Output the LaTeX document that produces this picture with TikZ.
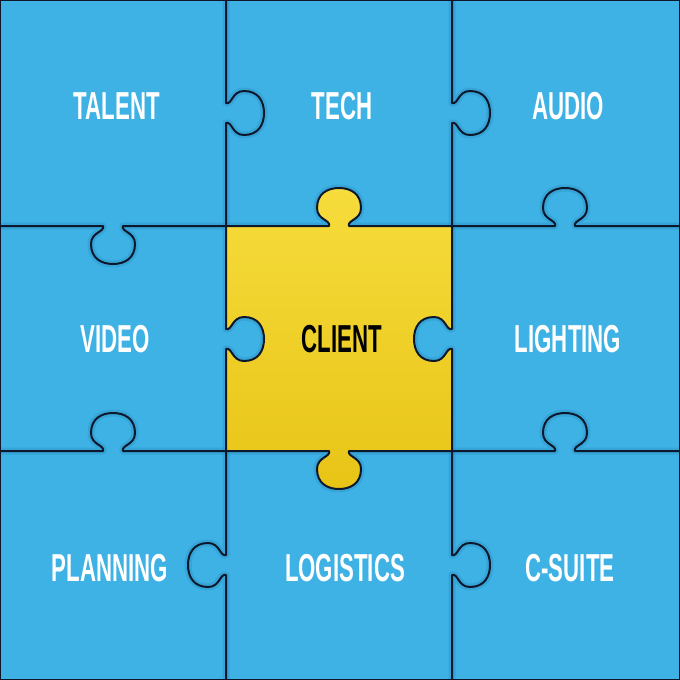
\documentclass[tikz,border=0pt]{standalone}
\usepackage{fontspec}
\newfontfamily\lab{Liberation Sans}[FakeStretch=0.57]
\definecolor{pblue}{RGB}{62,178,228}
\definecolor{pbluedark}{RGB}{40,140,190}
\definecolor{pyellowA}{RGB}{246,220,60}
\definecolor{pyellowB}{RGB}{232,196,22}
\definecolor{cutline}{RGB}{14,24,44}
\tikzset{
  % horizontal-edge knob: centre X, edge Y, bulge direction d, travel direction s
  knobH/.style n args={4}{insert path={-- ({#1-(#4)*10},{#2})
 .. controls ({#1-(#4)*8},{#2+(#3)*6}) and ({#1-(#4)*22},{#2+(#3)*6}) .. ({#1-(#4)*22},{#2+(#3)*18})
 .. controls ({#1-(#4)*22},{#2+(#3)*32}) and ({#1-(#4)*12},{#2+(#3)*38}) .. ({#1},{#2+(#3)*38})
 .. controls ({#1+(#4)*12},{#2+(#3)*38}) and ({#1+(#4)*22},{#2+(#3)*32}) .. ({#1+(#4)*22},{#2+(#3)*18})
 .. controls ({#1+(#4)*22},{#2+(#3)*6}) and ({#1+(#4)*8},{#2+(#3)*6}) .. ({#1+(#4)*10},{#2})}},
  % vertical-edge knob: edge X, centre Y, bulge direction d, travel direction s
  knobV/.style n args={4}{insert path={-- ({#1},{#2-(#4)*10})
 .. controls ({#1+(#3)*6},{#2-(#4)*8}) and ({#1+(#3)*6},{#2-(#4)*22}) .. ({#1+(#3)*18},{#2-(#4)*22})
 .. controls ({#1+(#3)*32},{#2-(#4)*22}) and ({#1+(#3)*38},{#2-(#4)*12}) .. ({#1+(#3)*38},{#2})
 .. controls ({#1+(#3)*38},{#2+(#4)*12}) and ({#1+(#3)*32},{#2+(#4)*22}) .. ({#1+(#3)*18},{#2+(#4)*22})
 .. controls ({#1+(#3)*6},{#2+(#4)*22}) and ({#1+(#3)*6},{#2+(#4)*8}) .. ({#1},{#2+(#4)*10})}},
  cut/.style={draw=cutline, line width=2pt, line join=round, line cap=round},
  shadowcut/.style={draw=pbluedark, line width=7pt, opacity=0.35, line join=round},
  label/.style={text=white, font=\lab\bfseries\fontsize{39}{39}\selectfont, inner sep=0pt},
}
\begin{document}
\begin{tikzpicture}[x=1pt,y=-1pt]
\useasboundingbox (0,0) rectangle (680,680);
\fill[pblue] (0,0) rectangle (680,680);
% soft bevel shadow along cuts
\path[shadowcut] (226,0) [knobV={226}{113}{1}{1}] [knobV={226}{339}{1}{1}] [knobV={226}{565}{-1}{1}] -- (226,680);
\path[shadowcut] (452,0) [knobV={452}{113}{1}{1}] [knobV={452}{339}{-1}{1}] [knobV={452}{565}{1}{1}] -- (452,680);
\path[shadowcut] (0,226) [knobH={113}{226}{1}{1}] [knobH={339}{226}{-1}{1}] [knobH={565}{226}{-1}{1}] -- (680,226);
\path[shadowcut] (0,451) [knobH={113}{451}{-1}{1}] [knobH={339}{451}{1}{1}] [knobH={565}{451}{-1}{1}] -- (680,451);
% client piece
\shade[top color=pyellowA, bottom color=pyellowB]
  (226,226) [knobH={339}{226}{-1}{1}] -- (452,226) [knobV={452}{339}{-1}{1}] -- (452,451)
  [knobH={339}{451}{1}{-1}] -- (226,451) [knobV={226}{339}{1}{-1}] -- cycle;
% cut lines
\path[cut] (226,0) [knobV={226}{113}{1}{1}] [knobV={226}{339}{1}{1}] [knobV={226}{565}{-1}{1}] -- (226,680);
\path[cut] (452,0) [knobV={452}{113}{1}{1}] [knobV={452}{339}{-1}{1}] [knobV={452}{565}{1}{1}] -- (452,680);
\path[cut] (0,226) [knobH={113}{226}{1}{1}] [knobH={339}{226}{-1}{1}] [knobH={565}{226}{-1}{1}] -- (680,226);
\path[cut] (0,451) [knobH={113}{451}{-1}{1}] [knobH={339}{451}{1}{1}] [knobH={565}{451}{-1}{1}] -- (680,451);
\draw[cutline, line width=2.5pt] (0,0) rectangle (680,680);
% labels
\node[label] (talent) at (117,106) {TALENT};
\node[label] (tech) at (342,106) {TECH};
\node[label] (audio) at (568,106) {AUDIO};
\node[label] (video) at (115,339) {VIDEO};
\node[label, text=black] (client) at (342,339) {CLIENT};
\node[label] (lighting) at (568,339) {LIGHTING};
\node[label] (planning) at (110,568) {PLANNING};
\node[label] (logistics) at (345,568) {LOGISTICS};
\node[label] (csuite) at (570,568) {C-SUITE};
\end{tikzpicture}
\end{document}
